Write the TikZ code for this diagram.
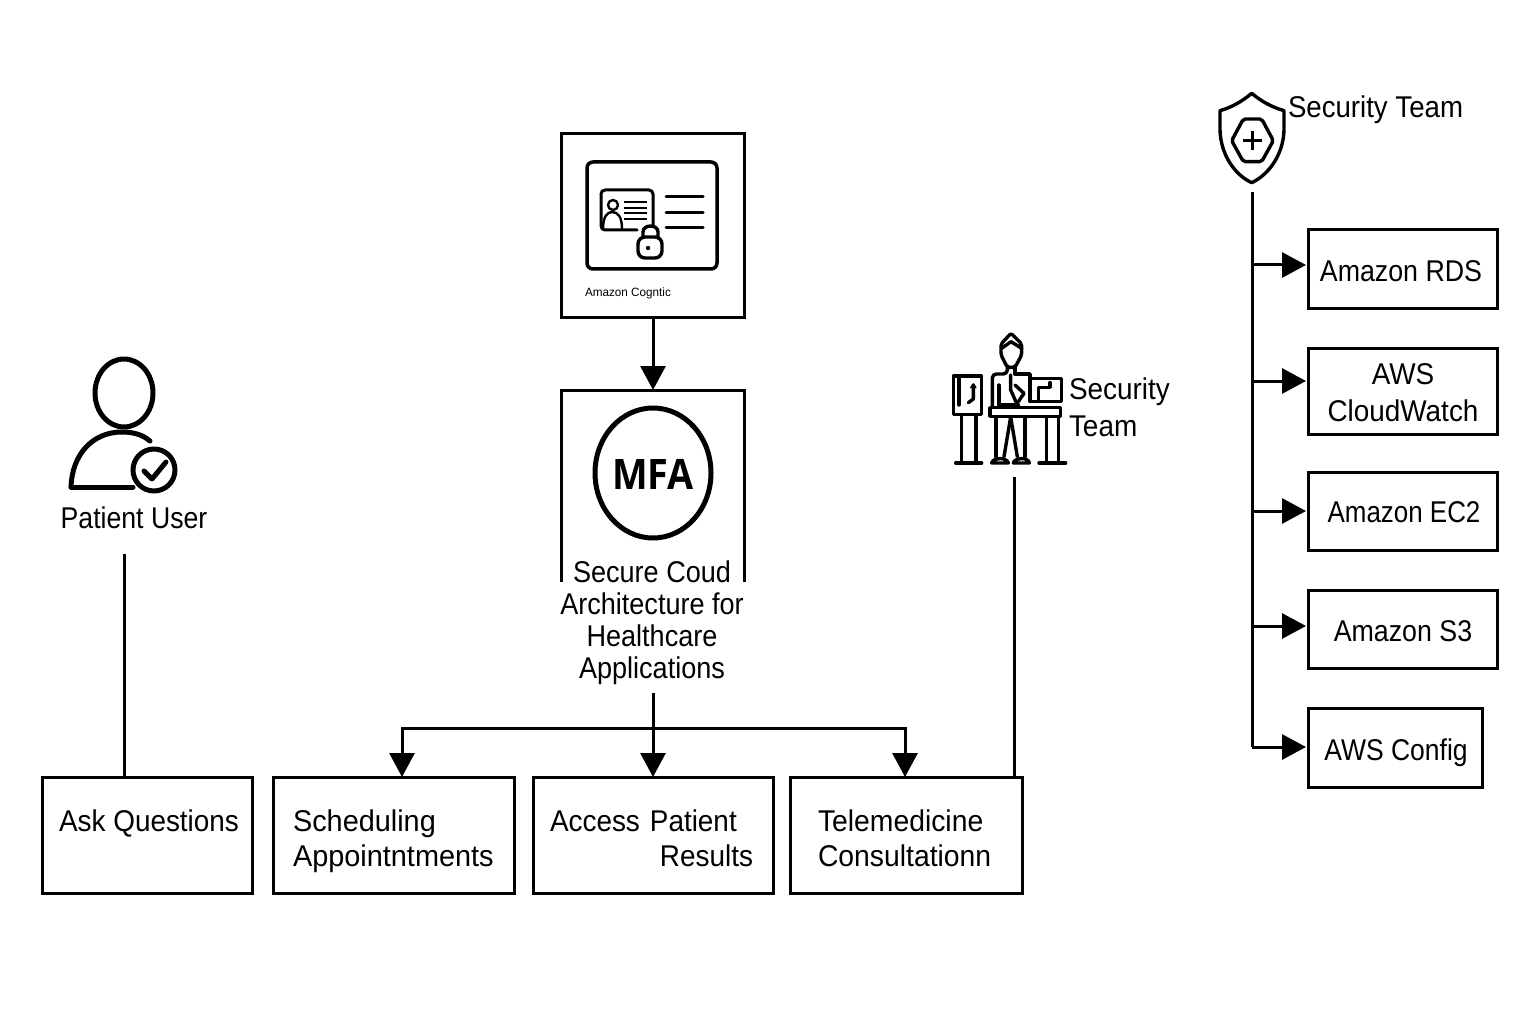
\documentclass[tikz,border=0pt]{standalone}
\usepackage{fontspec}
\setmainfont[FakeStretch=0.93]{Liberation Sans}
\newfontfamily\mfafont[FakeStretch=0.9]{Open Sans}
\usetikzlibrary{arrows.meta,calc,shapes.geometric}
\tikzset{
  boxn/.style={draw=black,line width=3pt,fill=white,inner sep=0pt,outer sep=0pt},
  lbl/.style={inner sep=0pt,outer sep=0pt,text=black,font=\fontsize{30}{35}\selectfont},
  fit x/.style={xscale=#1,transform shape},
  conn/.style={draw=black,line width=3pt},
  arrowc/.style={conn,-{Triangle[length=24pt,width=25pt]}},
  icon/.style={draw=black,line width=3.4pt,line cap=round,line join=round},
  iconthick/.style={draw=black,line width=5pt,line cap=round,line join=round}
}
\begin{document}
\begin{tikzpicture}[x=1pt,y=-1pt]
\useasboundingbox (0,0) rectangle (1536,1024);
\fill[white] (0,0) rectangle (1536,1024);

% ---- boxes
\node[boxn,minimum width=183pt,minimum height=184pt] (cognito) at (652.5,225.5) {};
\node[boxn,minimum width=210pt,minimum height=116pt] (ask) at (147,835) {};
\node[boxn,minimum width=241pt,minimum height=116pt] (sched) at (393.5,835) {};
\node[boxn,minimum width=240pt,minimum height=116pt] (access) at (653,835) {};
\node[boxn,minimum width=232pt,minimum height=116pt] (tele) at (906,835) {};
\node[boxn,minimum width=189pt,minimum height=78pt] (rds) at (1402.5,269) {};
\node[boxn,minimum width=189pt,minimum height=86pt] (cw) at (1402.5,391) {};
\node[boxn,minimum width=189pt,minimum height=78pt] (ec2) at (1402.5,511) {};
\node[boxn,minimum width=189pt,minimum height=78pt] (s3) at (1402.5,629) {};
\node[boxn,minimum width=174pt,minimum height=79pt] (config) at (1395,747.5) {};

% ---- MFA open-bottom box
\coordinate (mfatop) at (653,390);
\draw[conn] (561,582) -- (561,390) -- (744,390) -- (744,582);
\draw[iconthick] (653,473) ellipse [x radius=58,y radius=65];
\node[inner sep=0pt,outer sep=0pt,font=\mfafont\bfseries\fontsize{42}{42}\selectfont] (mfa) at (653,474) {MFA};

% ---- labels
\node[lbl,font=\fontsize{12}{14}\selectfont,anchor=west,fit x=1.05] (cogl) at (585,293) {Amazon Cogntic};
\node[lbl,align=center,anchor=center,fit x=0.97] (mfal) at (652,623) {Secure Coud\\[-3pt]Architecture for\\[-3pt]Healthcare\\[-3pt]Applications};
\node[lbl,anchor=center,fit x=0.955] (patl) at (134,518) {Patient User};
\node[lbl,anchor=center] (askl) at (149,823) {Ask Questions};
\node[lbl,align=left,anchor=west,fit x=1.035] (schedl) at (293,841.5) {Scheduling\\Appointntments};
\node[lbl,align=left,anchor=west,text width=203pt] (accessl) at (550,838.5) {Access Patient\\\mbox{}\hfill Results};
\node[lbl,align=left,anchor=west,fit x=1.015] (telel) at (818,838.5) {Telemedicine\\Consultationn};
\node[lbl,align=left,anchor=west,text depth=0pt] (secl) at (1069,407.5) {Security\\[2pt]Team};
\node[lbl,anchor=west,fit x=0.99] (sectop) at (1288,110) {Security Team};
\node[lbl,anchor=center,fit x=0.96] at (1401,271) (rdsl) {Amazon RDS};
\node[lbl,align=center,anchor=center] at (1403,392.5) (cwl) {AWS\\[2pt]CloudWatch};
\node[lbl,anchor=center,fit x=0.93] at (1404,512) (ec2l) {Amazon EC2};
\node[lbl,anchor=center,fit x=0.96] at (1403,631) (s3l) {Amazon S3};
\node[lbl,anchor=center,fit x=0.95] at (1396,753) (configl) {AWS Config};

% ---- connectors
\coordinate (patend) at (124,554);
\coordinate (askup) at (124,777);
\draw[conn] (askup) -- (patend);
\coordinate (secend) at (1014,477);
\coordinate (teleup) at (1014,777);
\draw[conn] (teleup) -- (secend);
\draw[arrowc] (cognito.south -| mfatop) -- (mfatop);
\coordinate (mfaout) at (653,693);
\coordinate (split) at (653,728);
\coordinate (schedtop) at (402,777);
\coordinate (teletop) at (905,777);
\draw[arrowc] (mfaout) -- (access.north -| mfaout);
\draw[arrowc] (split) -- (402,728) -- (schedtop);
\draw[arrowc] (split) -- (905,728) -- (teletop);
% security trunk
\coordinate (shieldout) at (1252,192);
\coordinate (t1) at (1252,265);
\coordinate (t2) at (1252,381);
\coordinate (t3) at (1252,511);
\coordinate (t4) at (1252,626);
\coordinate (t5) at (1252,747);
\draw[conn] (shieldout) -- (t5);
\foreach \t/\b in {t1/rds,t2/cw,t3/ec2,t4/s3,t5/config}{
  \draw[arrowc,shorten >=2pt] (\t) -- (\t -| \b.west);
}

% ---- patient icon
\draw[iconthick] (124,393) ellipse [x radius=29,y radius=34];
\draw[iconthick] (71,487) .. controls (72,455) and (92,432) .. (122,432) .. controls (134,432) and (143,435) .. (150,441);
\draw[iconthick] (71,487) -- (133,487);
\draw[iconthick] (154,470) circle (21);
\draw[iconthick] (144,471) -- (152,479) -- (166,462);

% ---- cognito icon
\draw[draw=black,line width=3.5pt,rounded corners=6pt] (587,162) rectangle (717,269);
\draw[icon,line width=3pt,rounded corners=4pt] (637,230) -- (601,230) -- (601,190) -- (653,190) -- (653,225);
\draw[icon,line width=2.4pt] (613,205) circle (5);
\draw[icon,line width=2.4pt] (603,229) .. controls (603,217) and (607,212) .. (612,212) .. controls (618,212) and (622,217) .. (622,229);
\foreach \yy in {202,208,213,219}{\draw[icon,line width=2.4pt,line cap=butt] (624,\yy) -- (647,\yy);}
\foreach \yy in {197,213,228}{\draw[icon,line width=3pt] (666,\yy) -- (703,\yy);}
\draw[icon,rounded corners=7pt] (638,237) rectangle (662,258);
\draw[icon] (643,236) -- (643,232) .. controls (643,224) and (658,224) .. (658,232) -- (658,238);
\fill (648,248) circle (2.2);

% ---- security person icon
\begin{scope}[shift={(940,325)},xscale=1/3,yscale=1/3]
  \draw[icon,rounded corners=2pt] (183,57) -- (213,25) -- (245,57) -- (245,90) -- (225,127) -- (202,127) -- (183,90) -- cycle;
  \draw[icon] (185,70) -- (213,50) -- (245,70);
  \draw[icon,rounded corners=4pt] (202,127) -- (202,147) -- (157,147) -- (157,243);
  \draw[icon] (225,127) -- (225,147) -- (270,147) -- (270,230) -- (295,230) -- (295,187) -- (330,187) -- (330,173);
  \draw[icon] (270,160) -- (365,160) -- (365,230) -- (295,230);
  \draw[icon] (177,180) -- (177,240) -- (235,240);
  \draw[icon] (212,150) -- (212,195) -- (232,240);
  \draw[icon] (225,180) -- (252,205) -- (235,230);
  \draw[icon] (150,248) -- (362,248) -- (362,274) -- (150,274) -- cycle;
  \draw[icon] (40,153) rectangle (125,268);
  \draw[icon,densely dotted] (57,160) -- (57,240);
  \draw[icon] (100,180) -- (100,222) -- (85,233);
  \draw[icon,line width=2pt] (93,188) -- (100,178) -- (107,188);
  \draw[icon] (65,270) -- (65,414);
  \draw[icon] (108,270) -- (108,414);
  \draw[icon] (47,414) -- (125,414);
  \draw[icon] (168,276) -- (168,395);
  \draw[icon] (255,276) -- (255,395);
  \draw[icon] (212,276) -- (192,395);
  \draw[icon] (212,276) -- (232,395);
  \draw[icon] (155,414) .. controls (158,398) and (200,395) .. (205,414) -- cycle;
  \draw[icon] (220,414) .. controls (223,398) and (265,395) .. (268,414) -- cycle;
  \draw[icon] (320,276) -- (320,414);
  \draw[icon] (355,276) -- (355,414);
  \draw[icon] (297,414) -- (377,414);
\end{scope}

% ---- shield icon
\begin{scope}[shift={(1200,80)},xscale=1/3,yscale=1/3]
  \draw[icon] (155,40) .. controls (125,65) and (95,82) .. (60,92) -- (60,150) .. controls (62,225) and (105,285) .. (155,308) .. controls (205,285) and (250,225) .. (252,150) -- (252,92) .. controls (217,82) and (185,65) .. (155,40) -- cycle;
  \draw[icon,rounded corners=2pt] (130,117) -- (185,117) -- (220,182) -- (185,245) -- (130,245) -- (95,182) -- cycle;
  \draw[icon,line cap=butt] (128,182) -- (186,182);
  \draw[icon,line cap=butt] (157,153) -- (157,211);
\end{scope}
\end{tikzpicture}
\end{document}
